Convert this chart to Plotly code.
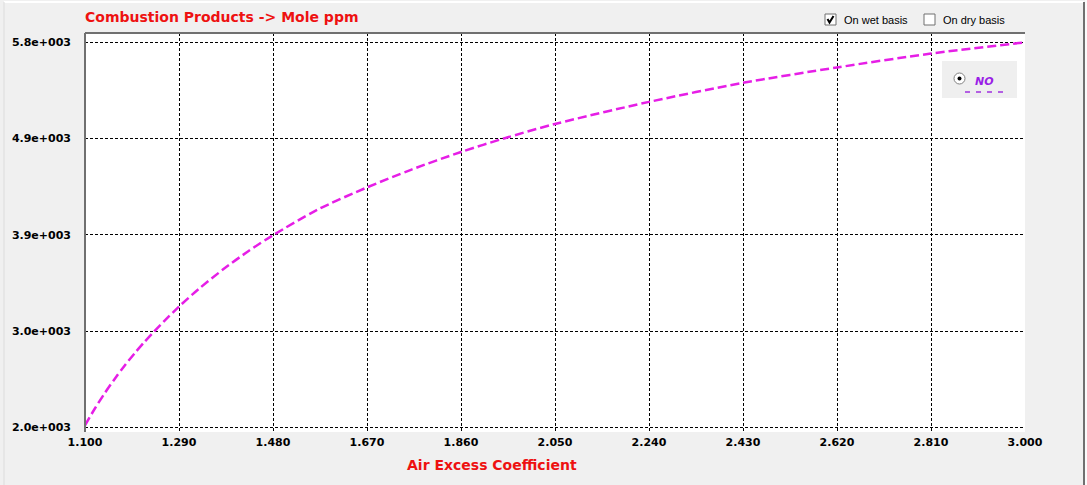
import plotly.graph_objects as go

# Air excess coefficient vs NO concentration (mole ppm, wet basis)
air_excess = [1.10, 1.12, 1.14, 1.16, 1.18, 1.20, 1.22, 1.24, 1.26, 1.29,
              1.33, 1.38, 1.43, 1.48, 1.57, 1.67, 1.76, 1.86, 1.95, 2.05,
              2.24, 2.43, 2.62, 2.81, 3.00]
no_ppm = [2020, 2186, 2338, 2478, 2608, 2729, 2842, 2948, 3048, 3192,
          3366, 3562, 3738, 3896, 4148, 4368, 4544, 4718, 4856, 4994,
          5212, 5400, 5552, 5689, 5800]

x_ticks = [1.10, 1.29, 1.48, 1.67, 1.86, 2.05, 2.24, 2.43, 2.62, 2.81, 3.00]
x_tick_labels = ["1.100", "1.290", "1.480", "1.670", "1.860", "2.050",
                 "2.240", "2.430", "2.620", "2.810", "3.000"]
y_ticks = [2000, 2950, 3900, 4850, 5800]
y_tick_labels = ["2.0e+003", "3.0e+003", "3.9e+003", "4.9e+003", "5.8e+003"]

W, H = 1087, 485
ML, MR, MT, MB = 85, 62, 33, 53
PW, PH = W - ML - MR, H - MT - MB


def px(x):
    return (x - ML) / PW


def py(y):
    return (H - MB - y) / PH


fig = go.Figure()
fig.add_trace(go.Scatter(
    x=air_excess, y=no_ppm,
    mode="lines",
    name="NO",
    line=dict(color="#e61ee6", width=2.5, dash="9px,4px", shape="spline", smoothing=0.8),
    showlegend=False,
))

font_main = "DejaVu Sans"
grid = dict(showgrid=True, gridcolor="black", gridwidth=1, griddash="3px,2px",
            zeroline=False, showline=False, ticks="")

fig.update_xaxes(range=[1.1, 3.0], tickvals=x_ticks, ticktext=x_tick_labels,
                 tickfont=dict(family=font_main, size=11, color="black", weight="bold"),
                 ticklabelstandoff=2, **grid)
fig.update_yaxes(range=[1954, 5892], tickvals=y_ticks, ticktext=y_tick_labels,
                 tickfont=dict(family=font_main, size=11, color="black", weight="bold"),
                 ticklabelstandoff=13, **grid)

shapes = [
    # plot frame (left and top)
    dict(type="line", xref="paper", yref="paper", x0=px(85), x1=px(85), y0=py(33), y1=py(432),
         line=dict(color="#707070", width=2)),
    dict(type="line", xref="paper", yref="paper", x0=px(85), x1=px(1025), y0=py(33), y1=py(33),
         line=dict(color="#707070", width=2)),
    # window border
    dict(type="line", xref="paper", yref="paper", x0=px(4), x1=px(1084), y0=py(2), y1=py(2),
         line=dict(color="white", width=2)),
    dict(type="line", xref="paper", yref="paper", x0=px(4), x1=px(4), y0=py(2), y1=py(485),
         line=dict(color="#dcdcdc", width=1)),
    dict(type="line", xref="paper", yref="paper", x0=px(1084), x1=px(1084), y0=py(2), y1=py(485),
         line=dict(color="#707070", width=2)),
    dict(type="rect", xref="paper", yref="paper", x0=px(1085), x1=px(1087), y0=py(0), y1=py(485),
         fillcolor="#fbfbfb", line=dict(width=0)),
    # checkboxes
    dict(type="rect", xref="paper", yref="paper", x0=px(825), x1=px(836), y0=py(14), y1=py(25),
         fillcolor="white", line=dict(color="#707070", width=1)),
    dict(type="rect", xref="paper", yref="paper", x0=px(924), x1=px(935), y0=py(14), y1=py(25),
         fillcolor="white", line=dict(color="#707070", width=1)),
    dict(type="path", xref="paper", yref="paper",
         path=f"M {px(827.5)},{py(19)} L {px(829.5)},{py(22.5)} L {px(833.5)},{py(16)}",
         line=dict(color="black", width=2)),
    # legend panel
    dict(type="rect", xref="paper", yref="paper", x0=px(942), x1=px(1017), y0=py(61), y1=py(98),
         fillcolor="#efefef", line=dict(width=0)),
    dict(type="circle", xref="paper", yref="paper", x0=px(954), x1=px(965), y0=py(73), y1=py(84),
         fillcolor="white", line=dict(color="#808080", width=1)),
    dict(type="circle", xref="paper", yref="paper", x0=px(957.5), x1=px(961.5), y0=py(76.5), y1=py(80.5),
         fillcolor="black", line=dict(width=0)),
    dict(type="line", xref="paper", yref="paper", x0=px(965), x1=px(1005), y0=py(92), y1=py(92),
         line=dict(color="#a030e0", width=1.5, dash="5px,6px")),
]

annotations = [
    dict(text="Combustion Products -> Mole ppm", xref="paper", yref="paper",
         x=px(83), y=py(17), xanchor="left", yanchor="middle", showarrow=False,
         font=dict(family=font_main, size=14, color="#ee1111", weight="bold")),
    dict(text="Air Excess Coefficient", xref="paper", yref="paper",
         x=px(492), y=py(465), xanchor="center", yanchor="middle", showarrow=False,
         font=dict(family=font_main, size=14, color="#ee1111", weight="bold")),
    dict(text="On wet basis", xref="paper", yref="paper",
         x=px(842), y=py(19.5), xanchor="left", yanchor="middle", showarrow=False,
         font=dict(family="Liberation Sans", size=11, color="black")),
    dict(text="On dry basis", xref="paper", yref="paper",
         x=px(941), y=py(19.5), xanchor="left", yanchor="middle", showarrow=False,
         font=dict(family="Liberation Sans", size=11, color="black")),
    dict(text="<b><i>NO</i></b>", xref="paper", yref="paper",
         x=px(984), y=py(81), xanchor="center", yanchor="middle", showarrow=False,
         font=dict(family=font_main, size=11, color="#9a1ee6")),
]

fig.update_layout(
    width=W, height=H,
    margin=dict(l=ML, r=MR, t=MT, b=MB),
    paper_bgcolor="#f0f0f0",
    plot_bgcolor="white",
    shapes=shapes,
    annotations=annotations,
    showlegend=False,
)

# drop the default page margin so the figure sits at the window origin
fig.write_html(
    "out.html",
    config={"displayModeBar": False},
    post_script="document.body.style.margin='0';document.body.style.overflow='hidden';",
)
